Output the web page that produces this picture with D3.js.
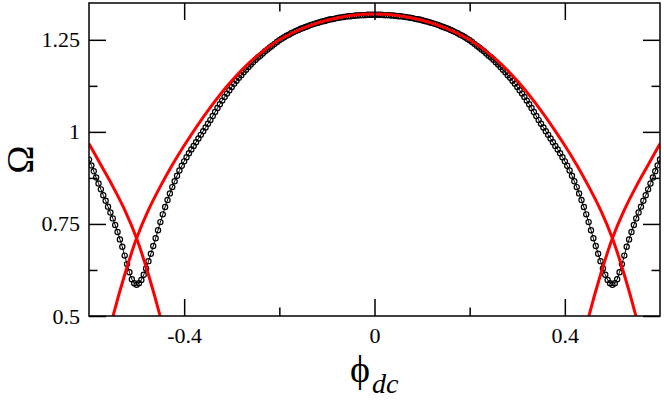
<!DOCTYPE html>
<meta charset="utf-8">
<script src="https://d3js.org/d3.v7.min.js"></script>
<style>
  body { margin: 0; background: #fff; }
  text { font-family: "Liberation Serif", "Times New Roman", Times, serif; }
</style>
<div id="chart"></div>
<script>
// ---- data ----
// black circles: phi from -0.6 to 0.6, step 0.005
var phiStart = -0.6, phiStep = 0.005;
var omegaSim = [
  0.925, 0.909, 0.893, 0.876, 0.860, 0.844, 0.828, 0.813, 0.797, 0.781,
  0.765, 0.747, 0.728, 0.708, 0.688, 0.664, 0.641, 0.619, 0.600, 0.589,
  0.585, 0.589, 0.598, 0.612, 0.629, 0.649, 0.669, 0.690, 0.711, 0.733,
  0.755, 0.776, 0.796, 0.815, 0.833, 0.850, 0.866, 0.881, 0.895, 0.908,
  0.920, 0.931, 0.942, 0.952, 0.962, 0.972, 0.982, 0.992, 1.002, 1.012,
  1.022, 1.032, 1.043, 1.054, 1.065, 1.075, 1.085, 1.095, 1.104, 1.113,
  1.122, 1.131, 1.139, 1.147, 1.154, 1.162, 1.169, 1.176, 1.183, 1.189,
  1.196, 1.202, 1.207, 1.213, 1.219, 1.224, 1.229, 1.234, 1.239, 1.244,
  1.249, 1.253, 1.257, 1.261, 1.264, 1.268, 1.271, 1.274, 1.277, 1.280,
  1.282, 1.285, 1.287, 1.290, 1.292, 1.294, 1.296, 1.298, 1.300, 1.301,
  1.303, 1.305, 1.306, 1.307, 1.309, 1.310, 1.311, 1.312, 1.313, 1.314,
  1.314, 1.315, 1.316, 1.316, 1.317, 1.317, 1.317, 1.318, 1.318, 1.318,
  1.318,
  1.318, 1.318, 1.318, 1.317, 1.317, 1.317, 1.316, 1.316, 1.315, 1.314,
  1.314, 1.313, 1.312, 1.311, 1.310, 1.309, 1.307, 1.306, 1.305, 1.303,
  1.301, 1.300, 1.298, 1.296, 1.294, 1.292, 1.290, 1.287, 1.285, 1.282,
  1.280, 1.277, 1.274, 1.271, 1.268, 1.264, 1.261, 1.257, 1.253, 1.249,
  1.244, 1.239, 1.234, 1.229, 1.224, 1.219, 1.213, 1.207, 1.202, 1.196,
  1.189, 1.183, 1.176, 1.169, 1.162, 1.154, 1.147, 1.139, 1.131, 1.122,
  1.113, 1.104, 1.095, 1.085, 1.075, 1.065, 1.054, 1.043, 1.032, 1.022,
  1.012, 1.002, 0.992, 0.982, 0.972, 0.962, 0.952, 0.942, 0.931, 0.920,
  0.908, 0.895, 0.881, 0.866, 0.850, 0.833, 0.815, 0.796, 0.776, 0.755,
  0.733, 0.711, 0.690, 0.669, 0.649, 0.629, 0.612, 0.598, 0.589, 0.585,
  0.589, 0.600, 0.619, 0.641, 0.664, 0.688, 0.708, 0.728, 0.747, 0.765,
  0.781, 0.797, 0.813, 0.828, 0.844, 0.860, 0.876, 0.893, 0.909, 0.925
];

// red curves (central one and the two neighbouring branches)
var redPhi   = [-0.6, -0.575, -0.55, -0.525, -0.5, -0.475, -0.45, -0.425, -0.4, -0.35, -0.3, -0.25, -0.2, -0.15, -0.1, -0.05, 0,
                0.05, 0.1, 0.15, 0.2, 0.25, 0.3, 0.35, 0.4, 0.425, 0.45, 0.475, 0.5, 0.525, 0.55, 0.575, 0.6];
var redOmega = [0.20, 0.36, 0.497, 0.612, 0.711, 0.788, 0.852, 0.910, 0.963, 1.058, 1.139, 1.203, 1.250, 1.282, 1.303, 1.316, 1.320,
                1.316, 1.303, 1.282, 1.250, 1.203, 1.139, 1.058, 0.963, 0.910, 0.852, 0.788, 0.711, 0.612, 0.497, 0.36, 0.20];
var sideLeftPhi    = [-0.6, -0.575, -0.55, -0.525, -0.5, -0.475, -0.45, -0.425, -0.4];
var sideLeftOmega  = [0.968, 0.910, 0.852, 0.788, 0.711, 0.612, 0.497, 0.36, 0.20];
var sideRightPhi   = [0.4, 0.425, 0.45, 0.475, 0.5, 0.525, 0.55, 0.575, 0.6];
var sideRightOmega = [0.20, 0.36, 0.497, 0.612, 0.711, 0.788, 0.852, 0.910, 0.968];

var xMajor = [-0.4, 0, 0.4], xMinor = [-0.2, 0.2];
var yMajor = [0.5, 0.75, 1, 1.25], yMinor = [0.625, 0.875, 1.125];

// ---- layout ----
var W = 664, H = 400;
var margin = {top: 3, right: 4, bottom: 84, left: 89};
var width = W - margin.left - margin.right,
    height = H - margin.top - margin.bottom;

var svg = d3.select("#chart").append("svg")
    .attr("width", W).attr("height", H);
var g = svg.append("g")
    .attr("transform", "translate(" + margin.left + "," + margin.top + ")");

var x = d3.scaleLinear().domain([-0.6, 0.6]).range([0, width]);
var y = d3.scaleLinear().domain([0.5, 1.35]).range([height, 0]);

g.append("clipPath").attr("id", "plot")
  .append("rect").attr("width", width).attr("height", height);

var plot = g.append("g").attr("clip-path", "url(#plot)");

// black series
var sim = omegaSim.map(function(v, i) { return {phi: phiStart + i * phiStep, om: v}; });
var line = d3.line().x(function(d) { return x(d.phi); }).y(function(d) { return y(d.om); });
plot.append("path").datum(sim)
  .attr("d", line)
  .attr("fill", "none").attr("stroke", "#000").attr("stroke-width", 1);
plot.append("g").selectAll("circle")
  .data(sim).enter().append("circle")
    .attr("cx", function(d) { return x(d.phi); })
    .attr("cy", function(d) { return y(d.om); })
    .attr("r", 2.6)
    .attr("fill", "none").attr("stroke", "#000").attr("stroke-width", 1.2);

// red curves
var redLine = d3.line().curve(d3.curveCatmullRom)
  .x(function(d) { return x(d[0]); }).y(function(d) { return y(d[1]); });
[[redPhi, redOmega], [sideLeftPhi, sideLeftOmega], [sideRightPhi, sideRightOmega]].forEach(function(s) {
  plot.append("path").datum(d3.zip(s[0], s[1]))
    .attr("d", redLine)
    .attr("fill", "none").attr("stroke", "#ff0000").attr("stroke-width", 3);
});

// axes: ticks inside, mirrored on all four sides
function styleAxis(sel) {
  sel.select(".domain").remove();
  sel.attr("font-family", null);
  sel.selectAll("line").attr("stroke", "#000").attr("stroke-width", 1.5);
  sel.selectAll("text").attr("fill", "#000").style("font-size", "22px");
}
var fmt = function(d) { return d === 0 ? "0" : String(d); };

g.append("g").attr("transform", "translate(0," + height + ")")
  .call(d3.axisBottom(x).tickValues(xMajor).tickSize(-17).tickPadding(11).tickFormat(fmt)).call(styleAxis);
g.append("g").attr("transform", "translate(0," + height + ")")
  .call(d3.axisBottom(x).tickValues(xMinor).tickSize(-8.5).tickFormat("")).call(styleAxis);
g.append("g")
  .call(d3.axisTop(x).tickValues(xMajor).tickSize(-17).tickFormat("")).call(styleAxis);
g.append("g")
  .call(d3.axisTop(x).tickValues(xMinor).tickSize(-8.5).tickFormat("")).call(styleAxis);

g.append("g")
  .call(d3.axisLeft(y).tickValues(yMajor).tickSize(-17).tickPadding(9).tickFormat(fmt)).call(styleAxis);
g.append("g")
  .call(d3.axisLeft(y).tickValues(yMinor).tickSize(-8.5).tickFormat("")).call(styleAxis);
g.append("g").attr("transform", "translate(" + width + ",0)")
  .call(d3.axisRight(y).tickValues(yMajor).tickSize(-17).tickFormat("")).call(styleAxis);
g.append("g").attr("transform", "translate(" + width + ",0)")
  .call(d3.axisRight(y).tickValues(yMinor).tickSize(-8.5).tickFormat("")).call(styleAxis);

// frame
g.append("rect").attr("width", width).attr("height", height)
  .attr("fill", "none").attr("stroke", "#000").attr("stroke-width", 1.5);

// axis titles
svg.append("text")
  .attr("transform", "translate(33," + (margin.top + height / 2) + ") rotate(-90)")
  .attr("text-anchor", "middle")
  .style("font-size", "38px")
  .text("Ω");

svg.append("text")
  .attr("x", 360).attr("y", 382)
  .attr("text-anchor", "middle")
  .style("font-size", "38px")
  .text("ϕ");
svg.append("text")
  .attr("x", 372).attr("y", 393)
  .style("font-size", "28px").style("font-style", "italic")
  .text("dc");
</script>
